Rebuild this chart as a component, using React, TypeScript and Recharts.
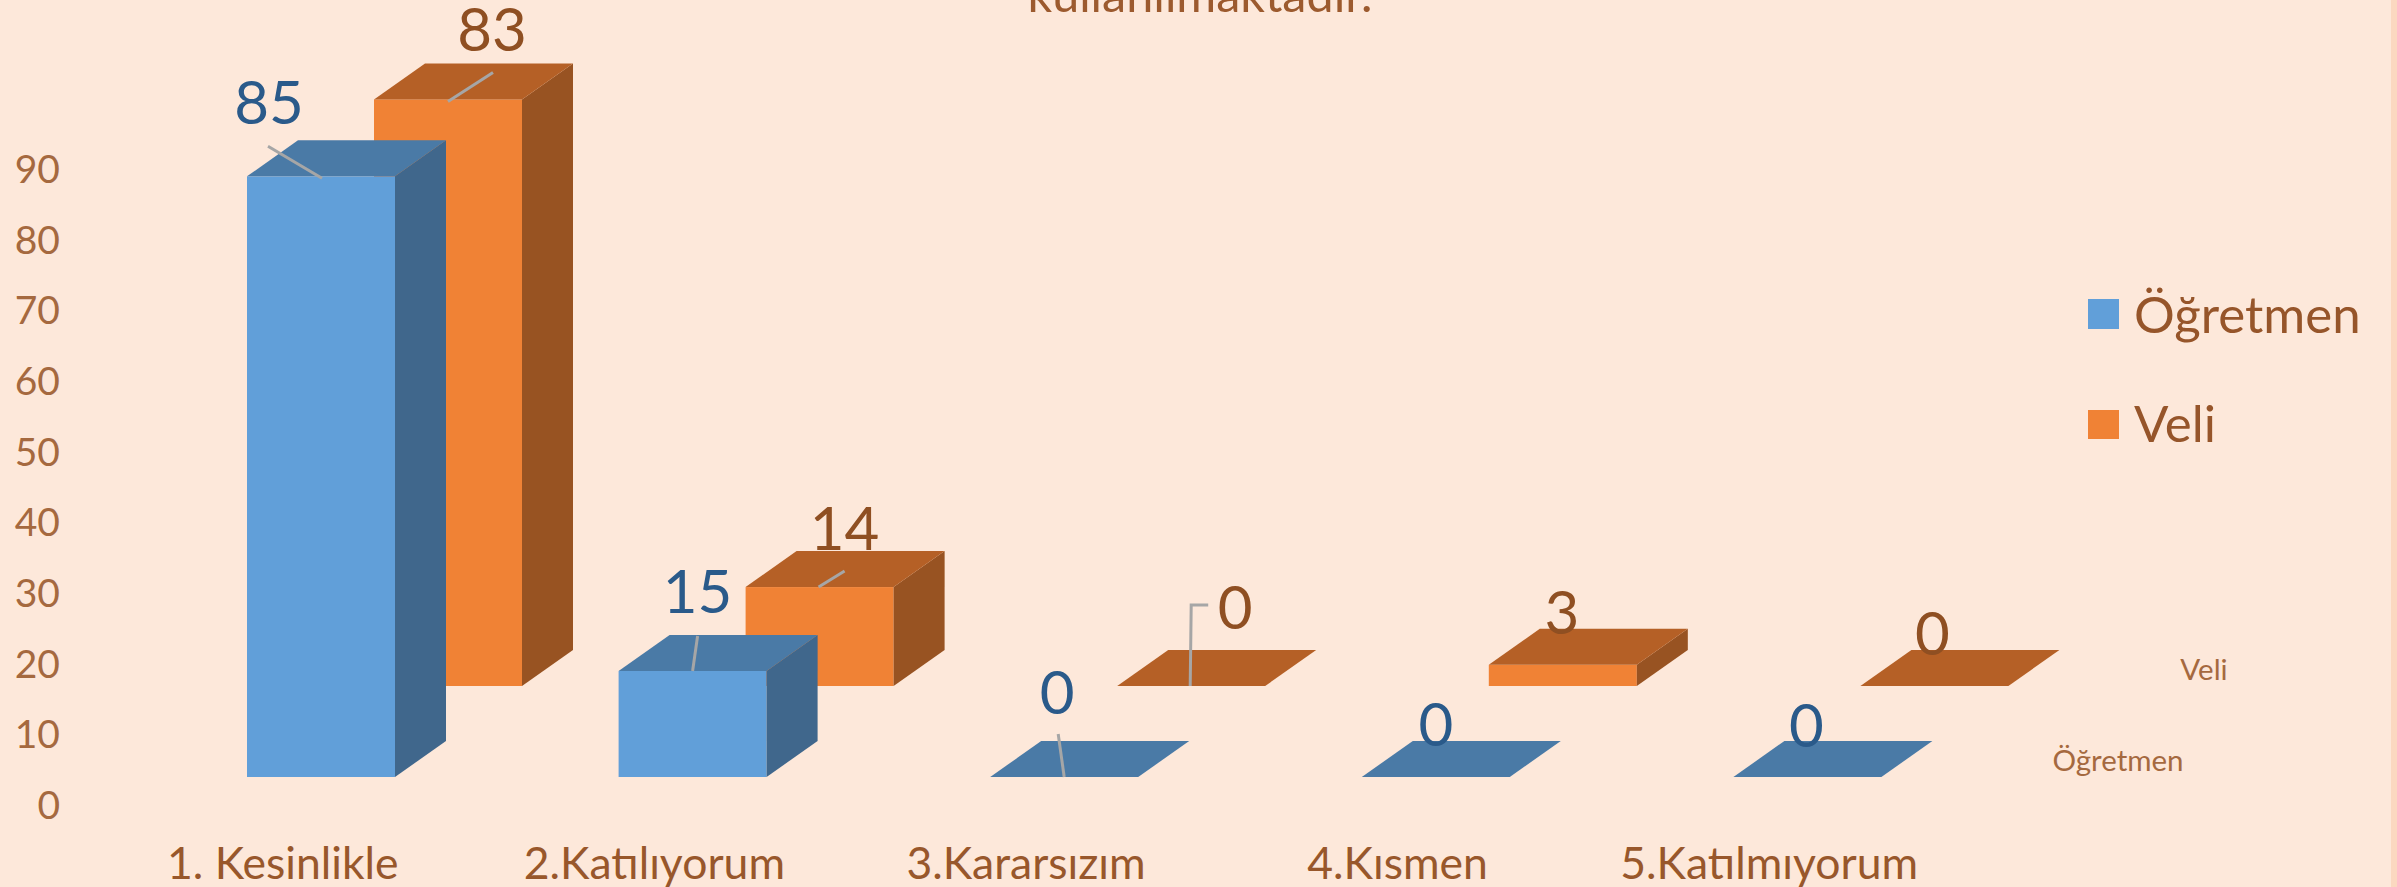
import { Bar, BarChart, Customized, LabelList, XAxis, YAxis } from "recharts";

const categories = ["1. Kesinlikle", "2.Katılıyorum", "3.Kararsızım", "4.Kısmen", "5.Katılmıyorum"];
const ogretmen = [85, 15, 0, 0, 0];
const veli = [83, 14, 0, 3, 0];
const yTicks = [0, 10, 20, 30, 40, 50, 60, 70, 80, 90];

const data = categories.map((name, i) => ({ name, ogretmen: ogretmen[i], veli: veli[i] }));

const FONT = "Lato, 'Open Sans', sans-serif";
const BG = "#fde8da";
const AXIS_TEXT = "#a5693f";
const DEPTH_X = 51;
const DEPTH_Y = 36;

const BLUE = { front: "#619fd9", top: "#4a7aa6", side: "#40678c", text: "#2a5a8a" };
const ORANGE = { front: "#f08235", top: "#b56026", side: "#985322", text: "#8f4f22" };

// hand-placed data labels from the original slide, relative to the top centre of each bar
const blueLabels = [
	{ dx: -52, dy: -74, leader: [[-53, -30], [1, 2]] },
	{ dx: 5, dy: -80, leader: [[5, -35], [0, 0]] },
	{ dx: -7, dy: -85, leader: [[-6, -43], [0, 0]] },
	{ dx: 0, dy: -53 },
	{ dx: -1, dy: -52 },
];
const orangeLabels = [
	{ dx: 44, dy: -70, leader: [[45, -27], [0, 2]] },
	{ dx: 25, dy: -59, leader: [[25, -16], [-1, 0]] },
	{ dx: 44, dy: -79, leader: [[17, -81], [0, -81], [-1, 0]] },
	{ dx: -1, dy: -52 },
	{ dx: -2, dy: -53 },
];

const makePrism = (colors: typeof BLUE, shiftX: number, shiftY: number) => (props: any) => {
	const x = props.x + shiftX;
	const y = props.y + shiftY;
	const { width, height } = props;
	const r = x + width;
	const b = y + height;
	return (
		<g>
			{height > 0 && <rect x={x} y={y} width={width} height={height} fill={colors.front} />}
			{height > 0 && (
				<polygon
					points={`${r},${y} ${r + DEPTH_X},${y - DEPTH_Y} ${r + DEPTH_X},${b - DEPTH_Y} ${r},${b}`}
					fill={colors.side}
				/>
			)}
			<polygon
				points={`${x},${y} ${x + DEPTH_X},${y - DEPTH_Y} ${r + DEPTH_X},${y - DEPTH_Y} ${r},${y}`}
				fill={colors.top}
			/>
		</g>
	);
};

const makeLabel = (color: string, spots: any[], shiftX: number, shiftY: number) => (props: any) => {
	const spot = spots[props.index];
	const cx = props.x + props.width / 2 + shiftX;
	const top = props.y + shiftY;
	return (
		<g>
			{spot.leader && (
				<polyline
					points={spot.leader.map((p: number[]) => `${cx + p[0]},${top + p[1]}`).join(" ")}
					fill="none"
					stroke="#a6a6a6"
					strokeWidth={3}
				/>
			)}
			<text
				x={cx + spot.dx}
				y={top + spot.dy}
				dy="0.36em"
				textAnchor="middle"
				fontFamily={FONT}
				fontSize={60}
				fill={color}
			>
				{props.value}
			</text>
		</g>
	);
};

const CategoryTick = ({ x, y, payload }: any) => (
	<text x={x - 38} y={y + 50} dy="0.36em" textAnchor="middle" fontFamily={FONT} fontSize={44.5} fill="#98572b">
		{payload.value}
	</text>
);

// title remnant, 3D depth labels and legend sit outside the plot area
const Extras = () => (
	<g fontFamily={FONT}>
		<text x={1200} y={12} textAnchor="middle" fontSize={48.5} fill="#9c5a2e">
			kullanılmaktadır.
		</text>
		<text x={2118} y={760} dy="0.36em" textAnchor="middle" fontSize={29.5} fill={AXIS_TEXT}>
			Öğretmen
		</text>
		<text x={2204} y={669} dy="0.36em" textAnchor="middle" fontSize={29.5} fill={AXIS_TEXT}>
			Veli
		</text>
		<rect x={2088} y={299} width={31} height={30} fill={BLUE.front} />
		<text x={2134} y={315} dy="0.36em" fontSize={51} fill="#96552a">
			Öğretmen
		</text>
		<rect x={2088} y={410} width={31} height={29} fill={ORANGE.front} />
		<text x={2134} y={424} dy="0.36em" fontSize={51} fill="#96552a">
			Veli
		</text>
		<rect x={2391} y={0} width={6} height={887} fill="#fbd8c0" />
	</g>
);

export default function App() {
	return (
		<div style={{ position: "absolute", left: 0, top: 0, width: 2397, height: 887, background: BG, overflow: "hidden" }}>
			<BarChart
				width={2397}
				height={887}
				data={data}
				margin={{ top: 169, right: 404, bottom: 22, left: 35 }}
				barSize={148}
				barGap={-148}
			>
				<XAxis dataKey="name" height={60} axisLine={false} tickLine={false} interval={0} tick={<CategoryTick />} />
				<YAxis
					width={100}
					domain={[0, 90]}
					ticks={yTicks}
					axisLine={false}
					tickLine={false}
					tickSize={0}
					tickMargin={75}
					tick={{ fontFamily: FONT, fontSize: 39, fill: AXIS_TEXT }}
				/>
				<Bar dataKey="veli" isAnimationActive={false} shape={makePrism(ORANGE, 127, -119)}>
					<LabelList dataKey="veli" content={makeLabel(ORANGE.text, orangeLabels, 127, -119)} />
				</Bar>
				<Bar dataKey="ogretmen" isAnimationActive={false} shape={makePrism(BLUE, 0, -28)}>
					<LabelList dataKey="ogretmen" content={makeLabel(BLUE.text, blueLabels, 0, -28)} />
				</Bar>
				<Customized component={<Extras />} />
			</BarChart>
		</div>
	);
}
